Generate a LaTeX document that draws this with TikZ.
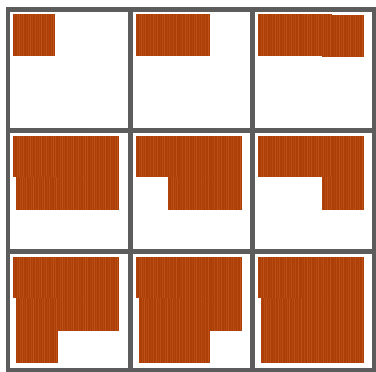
\documentclass[tikz,border=0pt]{standalone}
\definecolor{gridgray}{RGB}{92,92,92}
\definecolor{rustbase}{RGB}{172,62,8}
\definecolor{ruststripe}{RGB}{214,108,40}
\tikzset{
  gridline/.style={draw=gridgray, line width=4.3pt},
  tilebase/.style={fill=rustbase},
  stripe/.style={draw=ruststripe, line width=0.5pt},
}
\newcommand\mytile[2]{%
  \fill[tilebase] (#1,#2) rectangle ++(42,41.5);
  \foreach \k in {0,...,17}{%
    \pgfmathsetmacro\op{0.15+0.07*mod(\k*7,5)}%
    \pgfmathsetmacro\sx{#1+1.0+\k*2.3+0.5*mod(\k*3,4)/3}%
    \draw[stripe, opacity=\op] (\sx,#2) -- ++(0,41.5);
  }%
}
\newcommand\celltile[4]{%
  \pgfmathsetmacro\tx{#1+5+32*#3+(#3==0)*(#4>0)*3}%
  \pgfmathsetmacro\ty{#2+5+32.5*#4+(#3==2)*(#4==0)*0.5}%
  \mytile{\tx}{\ty}%
}
\begin{document}
\begin{tikzpicture}[x=1pt,y=-1pt]
\useasboundingbox (0,0) rectangle (376,372);
\fill[white] (0,0) rectangle (376,372);
% row 1
\celltile{8}{9.5}{0}{0}
\celltile{130.5}{9.5}{1}{0}
\celltile{130.5}{9.5}{0}{0}
\celltile{252.5}{9.5}{2}{0}
\celltile{252.5}{9.5}{1}{0}
\celltile{252.5}{9.5}{0}{0}
% row 2
\foreach \j in {2,1,0}{\celltile{8}{130.5}{\j}{1}}
\foreach \j in {2,1,0}{\celltile{8}{130.5}{\j}{0}}
\foreach \j in {2,1}{\celltile{130.5}{130.5}{\j}{1}}
\foreach \j in {2,1,0}{\celltile{130.5}{130.5}{\j}{0}}
\celltile{252.5}{130.5}{2}{1}
\foreach \j in {2,1,0}{\celltile{252.5}{130.5}{\j}{0}}
% row 3
\celltile{8}{251.5}{0}{2}
\foreach \j in {2,1,0}{\celltile{8}{251.5}{\j}{1}}
\foreach \j in {2,1,0}{\celltile{8}{251.5}{\j}{0}}
\foreach \j in {1,0}{\celltile{130.5}{251.5}{\j}{2}}
\foreach \j in {2,1,0}{\celltile{130.5}{251.5}{\j}{1}}
\foreach \j in {2,1,0}{\celltile{130.5}{251.5}{\j}{0}}
\foreach \j in {2,1,0}{\celltile{252.5}{251.5}{\j}{2}}
\foreach \j in {2,1,0}{\celltile{252.5}{251.5}{\j}{1}}
\foreach \j in {2,1,0}{\celltile{252.5}{251.5}{\j}{0}}
% grid
\draw[gridline] (8,9.5) rectangle (374,370);
\draw[gridline] (130.5,9.5) -- (130.5,370);
\draw[gridline] (252.5,9.5) -- (252.5,370);
\draw[gridline] (8,130.5) -- (374,130.5);
\draw[gridline] (8,251.5) -- (374,251.5);
\end{tikzpicture}
\end{document}
